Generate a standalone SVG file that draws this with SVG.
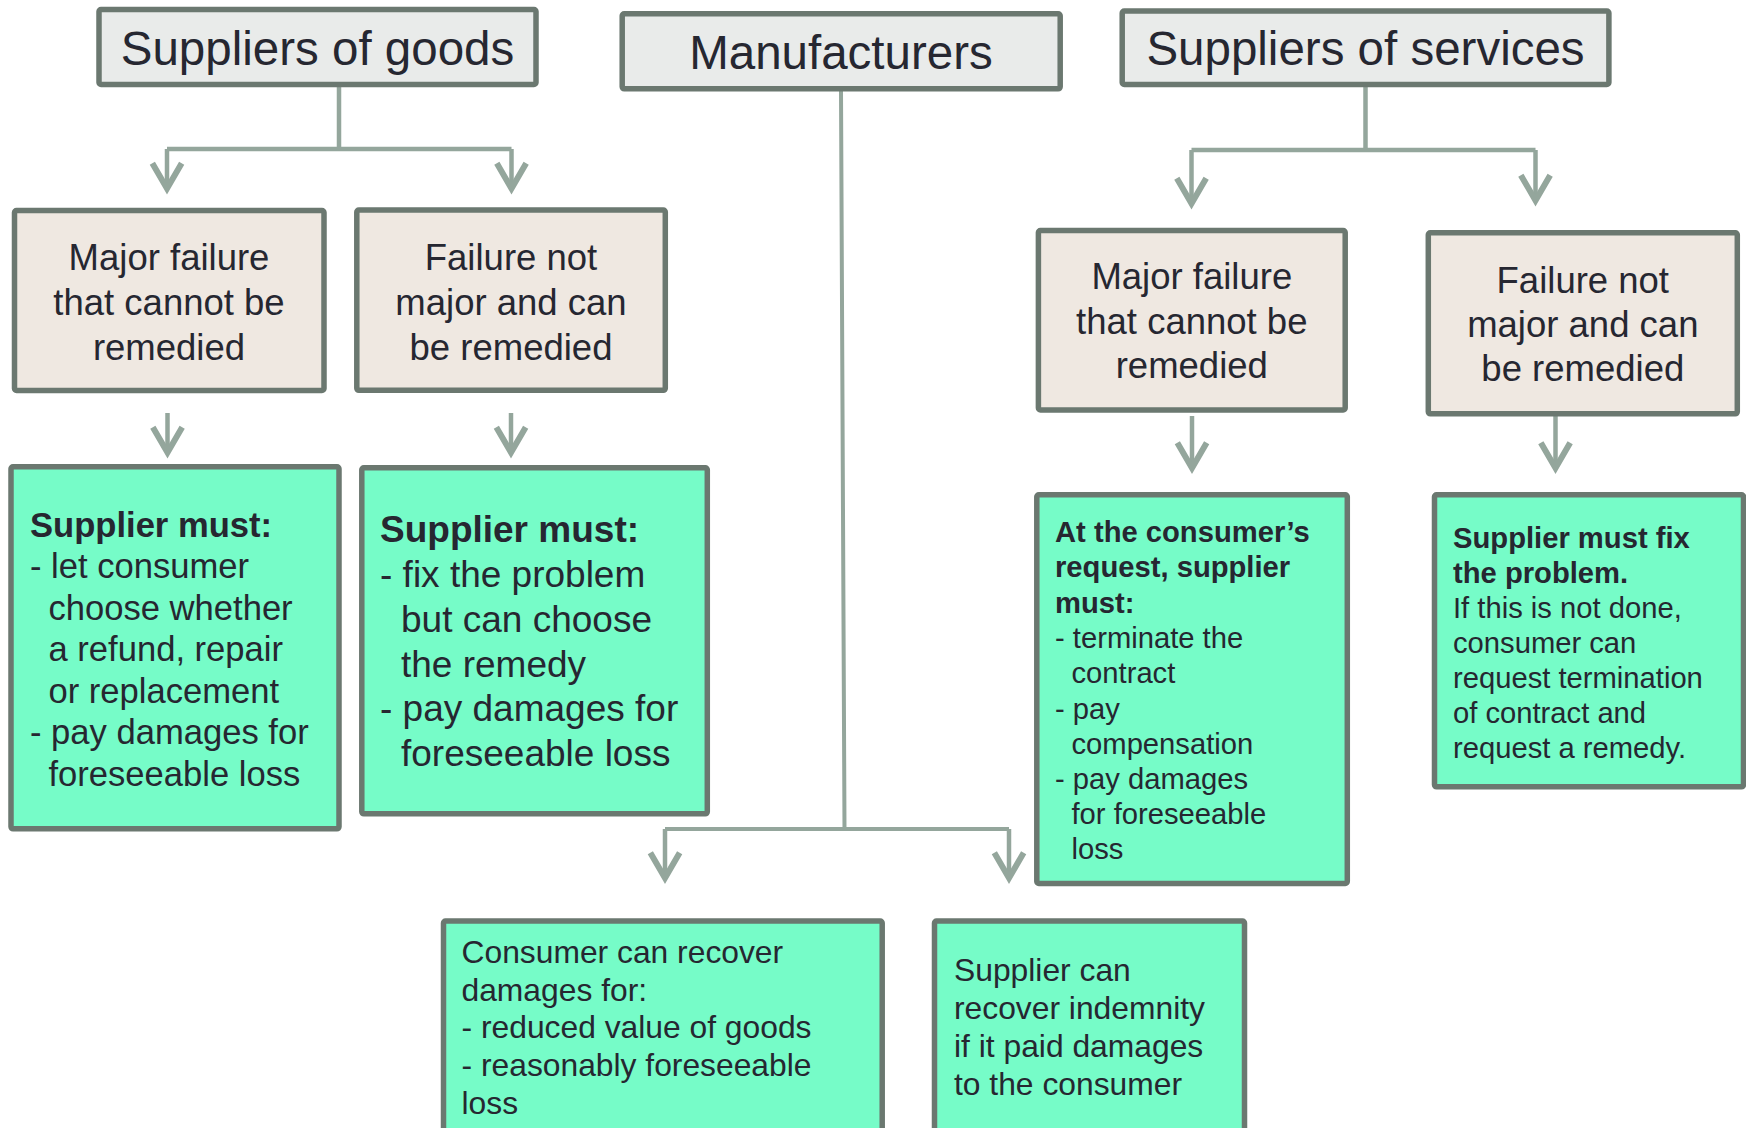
<svg xmlns="http://www.w3.org/2000/svg" width="1746" height="1128" viewBox="0 0 1746 1128">
  <defs>
    <style>
      text { font-family: "Liberation Sans", Arial, Helvetica, sans-serif; fill: #262731; }
      .box { stroke: #6b7870; stroke-width: 5.5; }
      .head { fill: #e9ebea; }
      .case { fill: #efe8e1; }
      .act { fill: #76fcc8; }
      .title { font-size: 47.5px; text-anchor: middle; }
      .cond { font-size: 36.5px; text-anchor: middle; }
      .b { font-weight: bold; }
      .f345 { font-size: 34.6px; }
      .f37 { font-size: 37px; }
      .f29 { font-size: 29.2px; }
      .f315 { font-size: 31.8px; }
      .link { fill: none; stroke: #94a69c; stroke-width: 4.5; }
      .arrow { marker-end: url(#chevron); }
    </style>
    <marker id="chevron" markerUnits="userSpaceOnUse" orient="auto" refX="0" refY="0" markerWidth="40" markerHeight="40" viewBox="-25 -15 30 30" overflow="visible">
      <path d="M-19,-11 L0,0 L-19,11" fill="none" stroke="#94a69c" stroke-width="4.5" stroke-linejoin="miter"/>
    </marker>
  </defs>

  <rect width="1746" height="1128" fill="#ffffff"/>

  <!-- connectors -->
  <g id="connectors">
    <!-- suppliers of goods -->
    <path class="link" d="M339,87 V149 M167,149 H511.5"/>
    <path class="link arrow" d="M167,149 V188.5"/>
    <path class="link arrow" d="M511.5,149 V188.5"/>
    <path class="link arrow" d="M167.5,413 V452.5"/>
    <path class="link arrow" d="M511,413 V452.5"/>
    <!-- manufacturers -->
    <path class="link" d="M841,91 L844.5,829 M665,829 H1009" style="stroke-width:4"/>
    <path class="link arrow" d="M665,829 V878"/>
    <path class="link arrow" d="M1009,829 V878"/>
    <!-- suppliers of services -->
    <path class="link" d="M1365.5,86 V150 M1191.5,150 H1535.5"/>
    <path class="link arrow" d="M1191.5,150 V203.5"/>
    <path class="link arrow" d="M1535.5,150 V200.5"/>
    <path class="link arrow" d="M1192,416 V468"/>
    <path class="link arrow" d="M1555.5,416 V468"/>
  </g>

  <!-- top row -->
  <g id="goods">
    <rect class="box head" x="99" y="9.5" width="437" height="75" rx="2"/>
    <text class="title" x="317.5" y="65">Suppliers of goods</text>
  </g>
  <g id="manufacturers">
    <rect class="box head" x="622.2" y="13.8" width="438" height="75" rx="2"/>
    <text class="title" x="841" y="69">Manufacturers</text>
  </g>
  <g id="services">
    <rect class="box head" x="1122.2" y="11.1" width="486.7" height="73.4" rx="2"/>
    <text class="title" x="1365.5" y="65">Suppliers of services</text>
  </g>

  <!-- goods: failure cases -->
  <g id="goods-major">
    <rect class="box case" x="14.5" y="210.5" width="309.5" height="180" rx="2"/>
    <text class="cond" x="169" y="270">Major failure</text>
    <text class="cond" x="169" y="315">that cannot be</text>
    <text class="cond" x="169" y="360">remedied</text>
  </g>
  <g id="goods-minor">
    <rect class="box case" x="356.8" y="210" width="308.5" height="180.3" rx="2"/>
    <text class="cond" x="511" y="270">Failure not</text>
    <text class="cond" x="511" y="315">major and can</text>
    <text class="cond" x="511" y="360">be remedied</text>
  </g>

  <!-- services: failure cases -->
  <g id="services-major">
    <rect class="box case" x="1038.4" y="230.5" width="306.8" height="179.5" rx="2"/>
    <text class="cond" x="1191.8" y="289">Major failure</text>
    <text class="cond" x="1191.8" y="333.5">that cannot be</text>
    <text class="cond" x="1191.8" y="378">remedied</text>
  </g>
  <g id="services-minor">
    <rect class="box case" x="1428.3" y="232.8" width="309" height="181" rx="2"/>
    <text class="cond" x="1582.8" y="292.5">Failure not</text>
    <text class="cond" x="1582.8" y="336.5">major and can</text>
    <text class="cond" x="1582.8" y="381">be remedied</text>
  </g>

  <!-- goods: outcomes -->
  <g id="goods-major-outcome">
    <rect class="box act" x="11" y="466.8" width="328" height="362" rx="2"/>
    <text class="f345 b" x="30" y="536.5">Supplier must:</text>
    <text class="f345" x="30" y="578">- let consumer</text>
    <text class="f345" x="48.5" y="619.5">choose whether</text>
    <text class="f345" x="48.5" y="661">a refund, repair</text>
    <text class="f345" x="48.5" y="702.5">or replacement</text>
    <text class="f345" x="30" y="744">- pay damages for</text>
    <text class="f345" x="48.5" y="785.5">foreseeable loss</text>
  </g>
  <g id="goods-minor-outcome">
    <rect class="box act" x="361.8" y="467.8" width="345.5" height="346" rx="2"/>
    <text class="f37 b" x="380" y="542">Supplier must:</text>
    <text class="f37" x="380" y="587">- fix the problem</text>
    <text class="f37" x="401" y="632">but can choose</text>
    <text class="f37" x="401" y="676.5">the remedy</text>
    <text class="f37" x="380" y="721">- pay damages for</text>
    <text class="f37" x="401" y="765.5">foreseeable loss</text>
  </g>

  <!-- services: outcomes -->
  <g id="services-major-outcome">
    <rect class="box act" x="1036.8" y="494.8" width="310.5" height="388.7" rx="2"/>
    <text class="f29 b" x="1055" y="541.5">At the consumer’s</text>
    <text class="f29 b" x="1055" y="577">request, supplier</text>
    <text class="f29 b" x="1055" y="612.5">must:</text>
    <text class="f29" x="1055" y="648">- terminate the</text>
    <text class="f29" x="1071.5" y="683">contract</text>
    <text class="f29" x="1055" y="718.5">- pay</text>
    <text class="f29" x="1071.5" y="753.5">compensation</text>
    <text class="f29" x="1055" y="788.5">- pay damages</text>
    <text class="f29" x="1071.5" y="823.5">for foreseeable</text>
    <text class="f29" x="1071.5" y="858.5">loss</text>
  </g>
  <g id="services-minor-outcome">
    <rect class="box act" x="1434.5" y="494.8" width="309" height="292" rx="2"/>
    <text class="f29 b" x="1453" y="547.5">Supplier must fix</text>
    <text class="f29 b" x="1453" y="582.5">the problem.</text>
    <text class="f29" x="1453" y="617.5">If this is not done,</text>
    <text class="f29" x="1453" y="652.5">consumer can</text>
    <text class="f29" x="1453" y="687.5">request termination</text>
    <text class="f29" x="1453" y="722.5">of contract and</text>
    <text class="f29" x="1453" y="757.5">request a remedy.</text>
  </g>

  <!-- manufacturers: outcomes -->
  <g id="consumer-damages">
    <rect class="box act" x="443.5" y="921" width="438.7" height="220" rx="2"/>
    <text class="f315" x="461.5" y="963">Consumer can recover</text>
    <text class="f315" x="461.5" y="1000.5">damages for:</text>
    <text class="f315" x="461.5" y="1038">- reduced value of goods</text>
    <text class="f315" x="461.5" y="1076">- reasonably foreseeable</text>
    <text class="f315" x="461.5" y="1113.5">loss</text>
  </g>
  <g id="supplier-indemnity">
    <rect class="box act" x="934.5" y="921" width="310" height="220" rx="2"/>
    <text class="f315" x="954" y="980.5">Supplier can</text>
    <text class="f315" x="954" y="1018.5">recover indemnity</text>
    <text class="f315" x="954" y="1056.5">if it paid damages</text>
    <text class="f315" x="954" y="1094.5">to the consumer</text>
  </g>
</svg>
